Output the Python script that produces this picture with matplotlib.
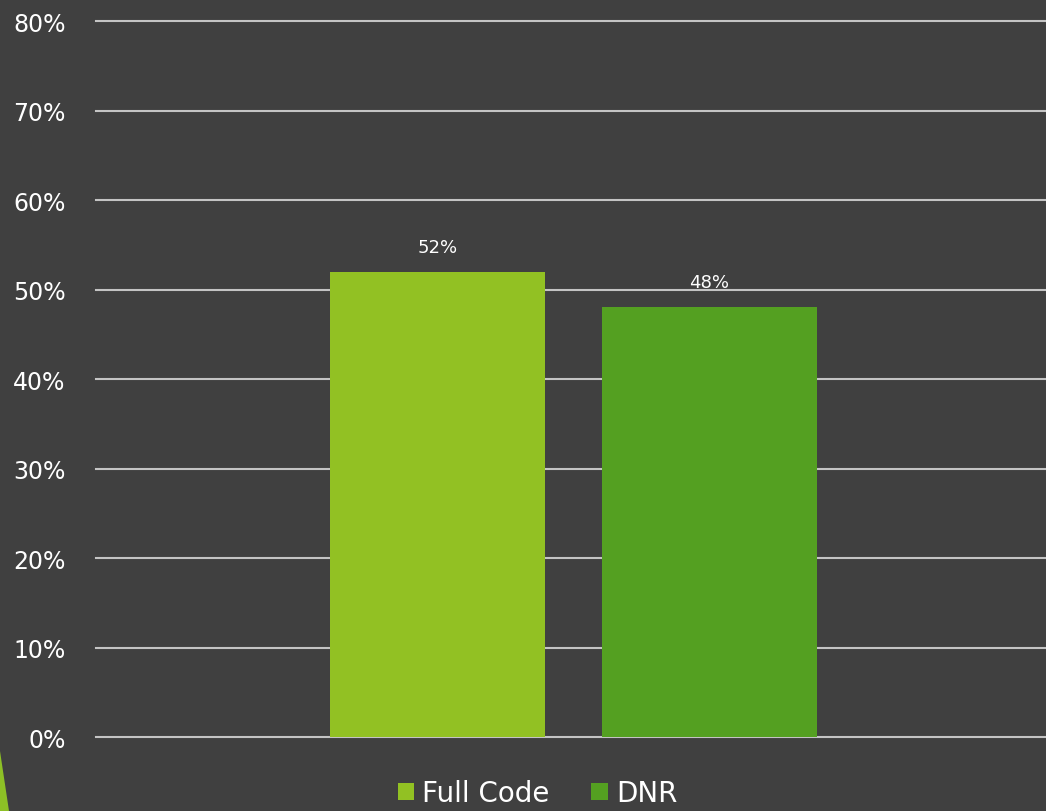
import matplotlib
matplotlib.use('Agg')
import matplotlib.pyplot as plt
import matplotlib.patches as patches
from matplotlib.ticker import PercentFormatter

# Data
series = ['Full Code', 'DNR']
values = [0.52, 0.48]
colors = ['#92C123', '#54A021']
yticks = [0, 0.1, 0.2, 0.3, 0.4, 0.5, 0.6, 0.7, 0.8]

bg = '#404040'
grid_color = '#C4C4C4'

plt.rcParams['font.family'] = ['DejaVu Sans']

fig = plt.figure(figsize=(10.46, 8.12), dpi=100, facecolor=bg)
ax = fig.add_axes([0.0918, 0.0911, 0.9082, 0.8818])
ax.set_facecolor(bg)

# horizontal gridlines behind the bars
for t in yticks:
    ax.axhline(t, color=grid_color, linewidth=1.5, zorder=1, clip_on=False)

# two bars inside a single category
offsets = [-0.1405, 0.1458]
width = 0.2263
bars = []
for off, v, c, name in zip(offsets, values, colors, series):
    b = ax.bar(off, v, width=width, color=c, zorder=2, label=name)
    bars.append(b)
    ax.annotate(f'{v*100:.0f}%', xy=(off, v), xytext=(0, 18),
                textcoords='offset points', ha='center', va='center',
                color='white', fontsize=13, zorder=3)

ax.set_xlim(-0.5, 0.5)
ax.set_ylim(0, 0.8)
ax.set_yticks(yticks)
ax.yaxis.set_major_formatter(PercentFormatter(1.0, decimals=0))
ax.set_xticks([])
ax.tick_params(axis='y', length=0, pad=22, labelsize=17, labelcolor='white')
for s in ax.spines.values():
    s.set_visible(False)

# legend at the bottom
fig.legend(handles=[b[0] for b in bars], labels=series, loc='lower center',
           bbox_to_anchor=(0.514, -0.026), ncol=2, frameon=False,
           fontsize=20, labelcolor='white', handlelength=0.58,
           handleheight=0.58, handletextpad=0.3, columnspacing=1.5)

# small green accent in the bottom-left corner
accent = patches.Polygon([[0, 0], [0, 60 / 812], [9 / 1046, 0]],
                         closed=True, transform=fig.transFigure,
                         facecolor='#8DC026', edgecolor='none')
fig.patches.append(accent)

fig.savefig('out.png', dpi=100, facecolor=bg)
